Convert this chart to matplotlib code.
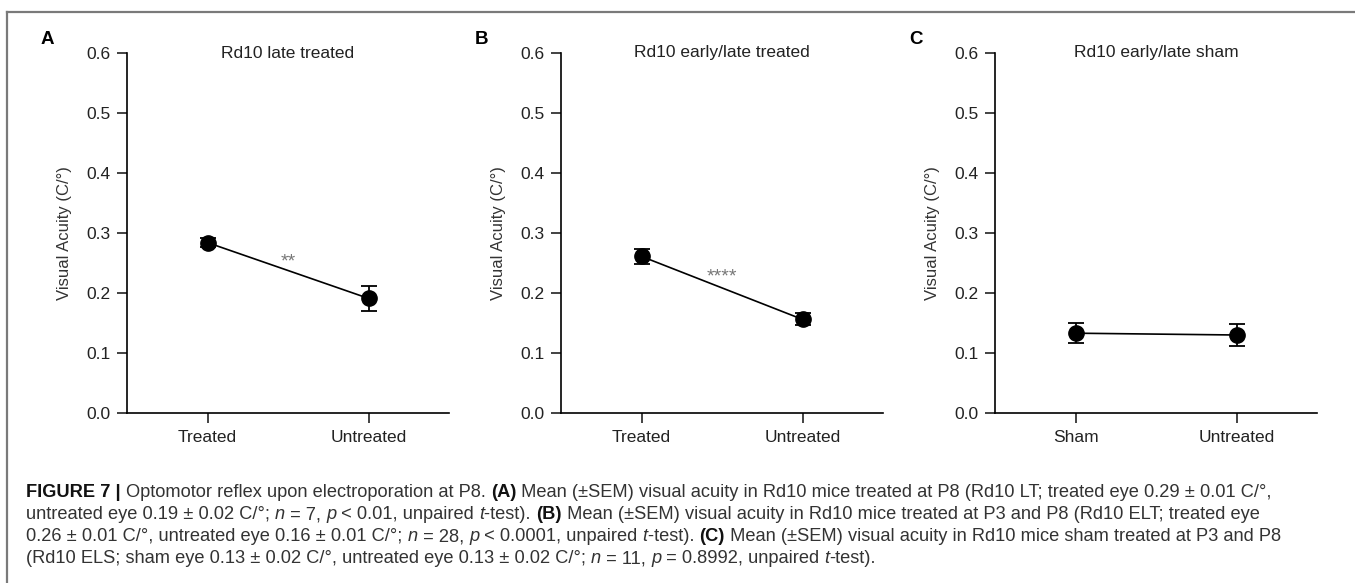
import numpy as np
import matplotlib.pyplot as plt

# ---- data ----
panel_letters = ['A', 'B', 'C']
titles = ['Rd10 late treated', 'Rd10 early/late treated', 'Rd10 early/late sham']
categories = [['Treated', 'Untreated'], ['Treated', 'Untreated'], ['Sham', 'Untreated']]
means = [[0.284, 0.191], [0.261, 0.156], [0.133, 0.130]]
sems = [[0.008, 0.021], [0.012, 0.010], [0.017, 0.018]]
stars = ['**', '****', '']
star_y = [0.245, 0.219, 0.0]
y_ticks = [0.0, 0.1, 0.2, 0.3, 0.4, 0.5, 0.6]
y_label = 'Visual Acuity (C/°)'

# caption: (text, style) segments per line; style b = bold, i = italic
caption = [
    [('FIGURE 7 | ', 'b'), ('Optomotor reflex upon electroporation at P8. ', 'n'), ('(A)', 'b'),
     (' Mean (±SEM) visual acuity in Rd10 mice treated at P8 (Rd10 LT; treated eye 0.29 ± 0.01 C/°,', 'n')],
    [('untreated eye 0.19 ± 0.02 C/°; ', 'n'), ('n', 'i'), (' = 7, ', 'n'), ('p', 'i'),
     (' < 0.01, unpaired ', 'n'), ('t', 'i'), ('-test). ', 'n'), ('(B)', 'b'),
     (' Mean (±SEM) visual acuity in Rd10 mice treated at P3 and P8 (Rd10 ELT; treated eye', 'n')],
    [('0.26 ± 0.01 C/°, untreated eye 0.16 ± 0.01 C/°; ', 'n'), ('n', 'i'), (' = 28, ', 'n'), ('p', 'i'),
     (' < 0.0001, unpaired ', 'n'), ('t', 'i'), ('-test). ', 'n'), ('(C)', 'b'),
     (' Mean (±SEM) visual acuity in Rd10 mice sham treated at P3 and P8', 'n')],
    [('(Rd10 ELS; sham eye 0.13 ± 0.02 C/°, untreated eye 0.13 ± 0.02 C/°; ', 'n'), ('n', 'i'),
     (' = 11, ', 'n'), ('p', 'i'), (' = 0.8992, unpaired ', 'n'), ('t', 'i'), ('-test).', 'n')],
]

plt.rcParams['font.family'] = ['Liberation Sans', 'DejaVu Sans']

W, H = 1355, 583
fig = plt.figure(figsize=(W / 100, H / 100), dpi=100)

# outer frame (top and left rules)
fig.add_artist(plt.Line2D([7 / W, 1], [1 - 12 / H, 1 - 12 / H], color='#7a7a7a', lw=1.6))
fig.add_artist(plt.Line2D([7 / W, 7 / W], [0, 1 - 12 / H], color='#7a7a7a', lw=1.6))

ax_left = [127, 561, 995]
ax_w = 322
for k in range(3):
    ax = fig.add_axes([ax_left[k] / W, (H - 413) / H, ax_w / W, 360 / H])
    x = np.arange(len(categories[k]))
    ax.plot(x, means[k], color='black', lw=1.2, zorder=2)
    ax.errorbar(x, means[k], yerr=sems[k], fmt='o', color='black', ms=11,
                capsize=6, elinewidth=1.3, capthick=1.3, zorder=3)
    ax.set_xlim(-0.5, 1.5)
    ax.set_ylim(0, 0.6)
    ax.set_yticks(y_ticks)
    ax.set_yticklabels([f'{v:.1f}' for v in y_ticks])
    ax.set_xticks(x)
    ax.set_xticklabels(categories[k])
    ax.spines[['top', 'right']].set_visible(False)
    ax.spines[['left', 'bottom']].set_linewidth(1.2)
    ax.tick_params(length=7, width=1.2, labelsize=12.5, colors='#222222', pad=5)
    ax.set_ylabel(y_label, fontsize=12, color='#333333', labelpad=10)
    ax.text(0.5, 0.6, titles[k], ha='center', va='center', fontsize=12.5, color='#222222')
    if stars[k]:
        ax.text(0.5, star_y[k], stars[k], ha='center', va='baseline', fontsize=14, color='#777777')
    ax.patch.set_alpha(0)
    for c in ax.get_children():
        c.set_clip_on(False)
    fig.text((ax_left[k] - 86) / W, 1 - 39 / H, panel_letters[k], fontsize=13.5,
             fontweight='bold', ha='left', va='center')

# caption, segment by segment
cap_font = 'Liberation Sans'
renderer = fig.canvas.get_renderer()
line_y = [497, 519, 541, 563]
x0 = 26
target_w = 1268 - x0


def draw_line(segs, row, size, draw=True):
    xp = x0
    for txt, st in segs:
        t = fig.text(xp / W, 1 - row / H, txt, fontsize=size, family=[cap_font, 'DejaVu Sans'],
                     fontweight='bold' if st == 'b' else 'normal',
                     fontstyle='italic' if st == 'i' else 'normal',
                     color='#111111' if st == 'b' else '#333333', ha='left', va='baseline')
        xp += t.get_window_extent(renderer).width
        if not draw:
            t.remove()
    return xp - x0


# scale the caption size so the first line spans the same width as the reference
size = 11.0
size *= target_w / draw_line(caption[0], line_y[0], size, draw=False)
for row, segs in zip(line_y, caption):
    draw_line(segs, row, size)

fig.savefig('out.png', dpi=100)
